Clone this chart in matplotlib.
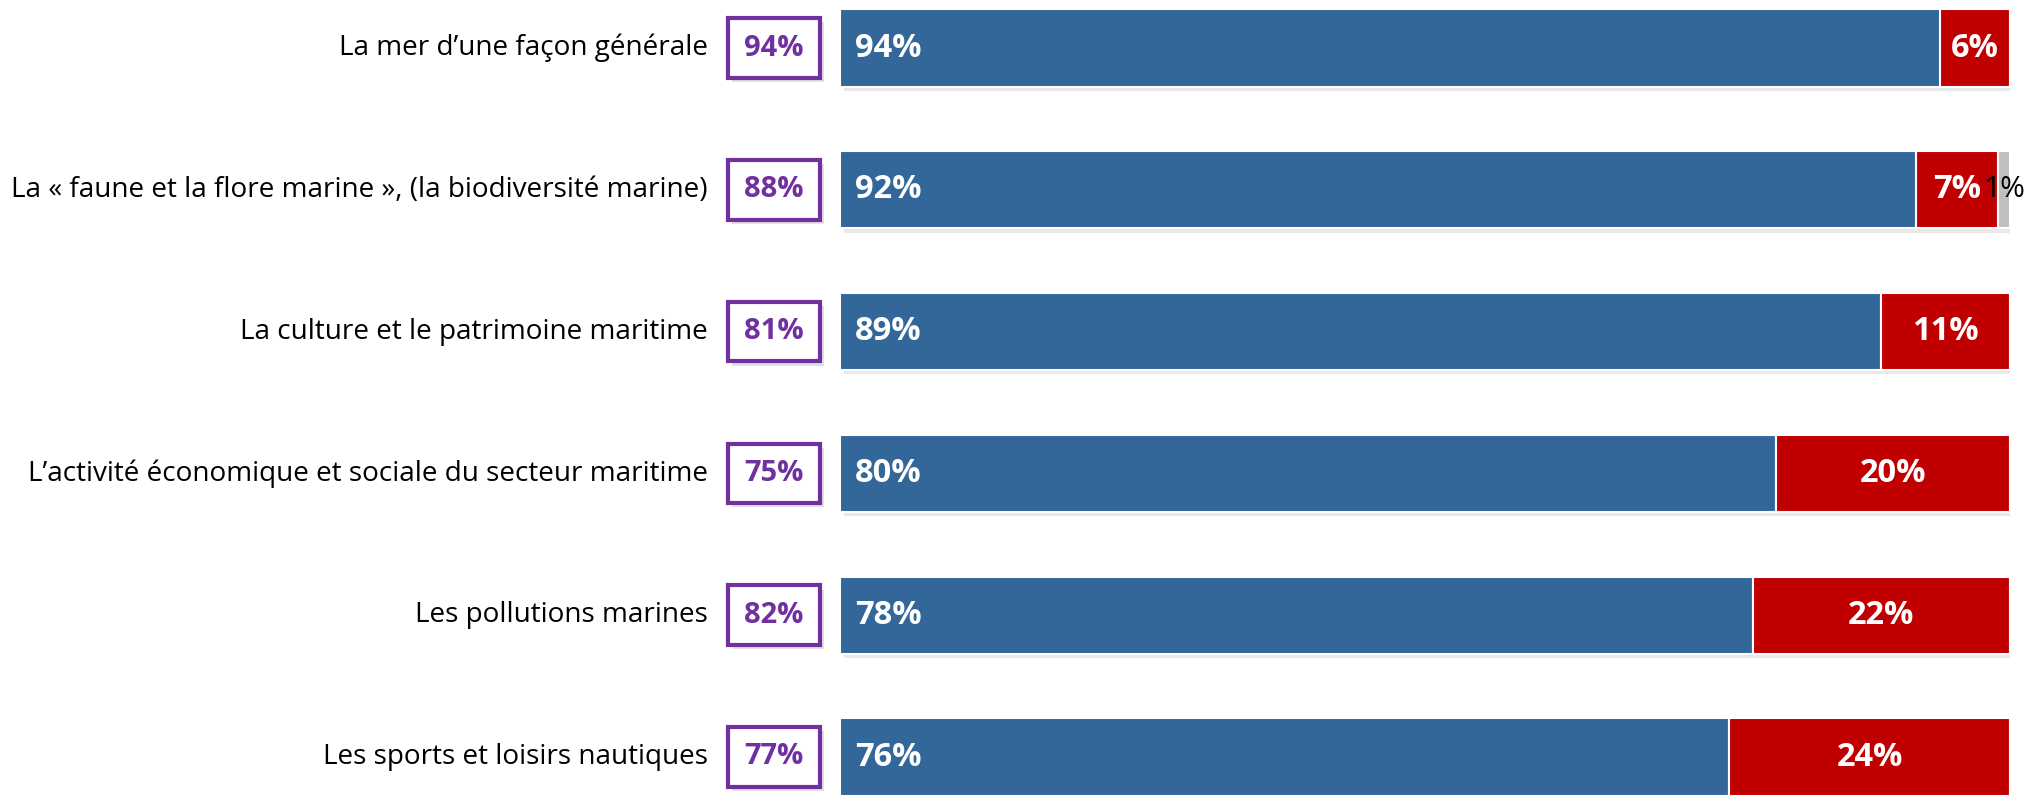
import matplotlib.pyplot as plt
import matplotlib.patheffects as pe
from matplotlib.patches import Rectangle

categories = [
    "La mer d\u2019une façon générale",
    "La « faune et la flore marine », (la biodiversité marine)",
    "La culture et le patrimoine maritime",
    "L\u2019activité économique et sociale du secteur maritime",
    "Les pollutions marines",
    "Les sports et loisirs nautiques",
]
blue_vals = [94, 92, 89, 80, 78, 76]
red_vals = [6, 7, 11, 20, 22, 24]
grey_vals = [0, 1, 0, 0, 0, 0]
box_vals = [94, 88, 81, 75, 82, 77]

BLUE = "#336699"
RED = "#C00000"
GREY = "#BFBFBF"
PURPLE = "#7030A0"

plt.rcParams['font.family'] = ['Open Sans', 'DejaVu Sans']

W, H = 2026, 796
fig = plt.figure(figsize=(W / 100, H / 100), dpi=100)
x0, x1 = 840, 2010
ax = fig.add_axes([x0 / W, 0, (x1 - x0) / W, 1])
ax.set_xlim(0, 100)
unit = (757 - 48) / 5
ax.set_ylim(5 + (H - 757) / unit, -48 / unit)
ax.axis('off')

y = list(range(len(categories)))
bh = 0.545
shadow = [pe.SimplePatchShadow(offset=(3, -3), shadow_rgbFace='#888888', alpha=0.18), pe.Normal()]

left = [0] * len(y)
for vals, col in [(blue_vals, BLUE), (red_vals, RED), (grey_vals, GREY)]:
    bars = ax.barh(y, vals, left=left, height=bh, color=col,
                   edgecolor='white', linewidth=1.5)
    for b in bars:
        b.set_path_effects(shadow)
    left = [l + v for l, v in zip(left, vals)]

for i in y:
    ax.text(1.3, i, f"{blue_vals[i]}%", color='white', fontsize=23.5,
            fontweight='bold', va='center', ha='left')
    rc = blue_vals[i] + red_vals[i] / 2
    ax.text(rc, i, f"{red_vals[i]}%", color='white', fontsize=23.5,
            fontweight='bold', va='center', ha='center')
    if grey_vals[i]:
        gc = blue_vals[i] + red_vals[i] + grey_vals[i] / 2
        ax.text(gc, i, f"{grey_vals[i]}%", color='black', fontsize=21.5,
                va='center', ha='center', clip_on=False)
    # purple box
    bx, bw, bhh = -9.6, 7.9, 0.42
    r = Rectangle((bx, i - bhh / 2), bw, bhh, facecolor='white',
                  edgecolor=PURPLE, linewidth=3, clip_on=False)
    r.set_path_effects([pe.SimplePatchShadow(offset=(3, -3), shadow_rgbFace='#888888', alpha=0.25), pe.Normal()])
    ax.add_patch(r)
    ax.text(bx + bw / 2, i, f"{box_vals[i]}%", color=PURPLE, fontsize=21,
            fontweight='bold', va='center', ha='center')
    ax.text(-11.3, i, categories[i], color='black', fontsize=20.1,
            va='center', ha='right')

fig.savefig("out.png", dpi=100)
